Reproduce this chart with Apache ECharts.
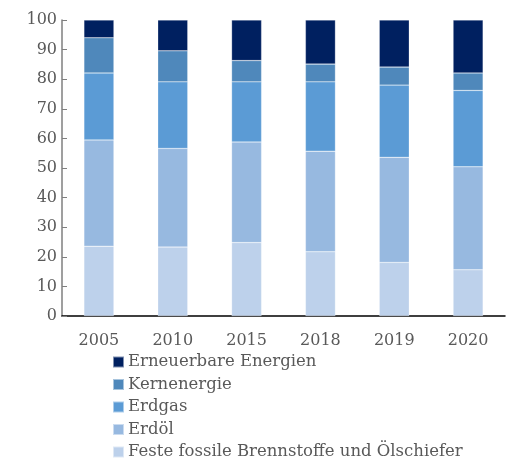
<!DOCTYPE html>
<html>
<head>
<meta charset="utf-8">
<script src="https://cdn.jsdelivr.net/npm/echarts@6/dist/echarts.min.js"></script>
<style>
  html, body { margin: 0; padding: 0; background: #fff; }
  #chart { width: 506px; height: 459px; }
</style>
</head>
<body>
<div id="chart"></div>
<script>
// Jahre (Kategorien)
var years = ["2005", "2010", "2015", "2018", "2019", "2020"];

// Anteile in % (von unten nach oben gestapelt)
var feste = [23.6, 23.3, 24.8, 21.7, 18.1, 15.6];
var erdoel = [35.9, 33.3, 34.0, 34.0, 35.5, 34.8];
var erdgas = [22.6, 22.5, 20.3, 23.4, 24.4, 25.8];
var kern = [11.9, 10.5, 7.2, 6.0, 6.1, 5.9];
var erneuerbar = [6.0, 10.4, 13.7, 14.9, 15.9, 17.9];

var names = [
    "Feste fossile Brennstoffe und Ölschiefer",
    "Erdöl",
    "Erdgas",
    "Kernenergie",
    "Erneuerbare Energien"
];
var colors = ["#bdd1eb", "#97b9e0", "#5b9bd5", "#4f88bb", "#002060"];
var values = [feste, erdoel, erdgas, kern, erneuerbar];

var font = "DejaVu Serif";

var chart = echarts.init(document.getElementById("chart"));

var series = [];
for (var i = 0; i < names.length; i++) {
    series.push({
        name: names[i],
        type: "bar",
        stack: "total",
        barWidth: 30,
        data: values[i],
        itemStyle: { color: colors[i], borderColor: "rgba(255,255,255,0.5)", borderWidth: 0.5 }
    });
}

var option = {
    animation: false,
    textStyle: { fontFamily: font },
    grid: { left: 62, right: 1, top: 20, bottom: 143 },
    legend: {
        orient: "vertical",
        left: 112,
        top: 353,
        height: 120,
        padding: 0,
        itemWidth: 11,
        itemHeight: 11,
        itemGap: 4.5,
        icon: "rect",
        data: names.slice().reverse(),
        textStyle: { fontFamily: font, fontSize: 16.5, lineHeight: 18, color: "#595959", padding: [0, 0, 0, -1] }
    },
    xAxis: {
        type: "category",
        data: years,
        axisLine: { lineStyle: { color: "#000", width: 1.5 } },
        axisTick: { inside: true, length: 5, lineStyle: { color: "#595959" } },
        axisLabel: { fontFamily: font, fontSize: 16, color: "#595959", margin: 17 }
    },
    yAxis: {
        type: "value",
        min: 0,
        max: 100,
        interval: 10,
        splitLine: { show: false },
        axisLine: { show: true, lineStyle: { color: "#7f7f7f", width: 1.5 } },
        axisTick: { show: true, inside: true, length: 5, lineStyle: { color: "#7f7f7f" } },
        axisLabel: { fontFamily: font, fontSize: 16, color: "#595959", margin: 5 }
    },
    series: series
};

chart.setOption(option);
</script>
</body>
</html>
